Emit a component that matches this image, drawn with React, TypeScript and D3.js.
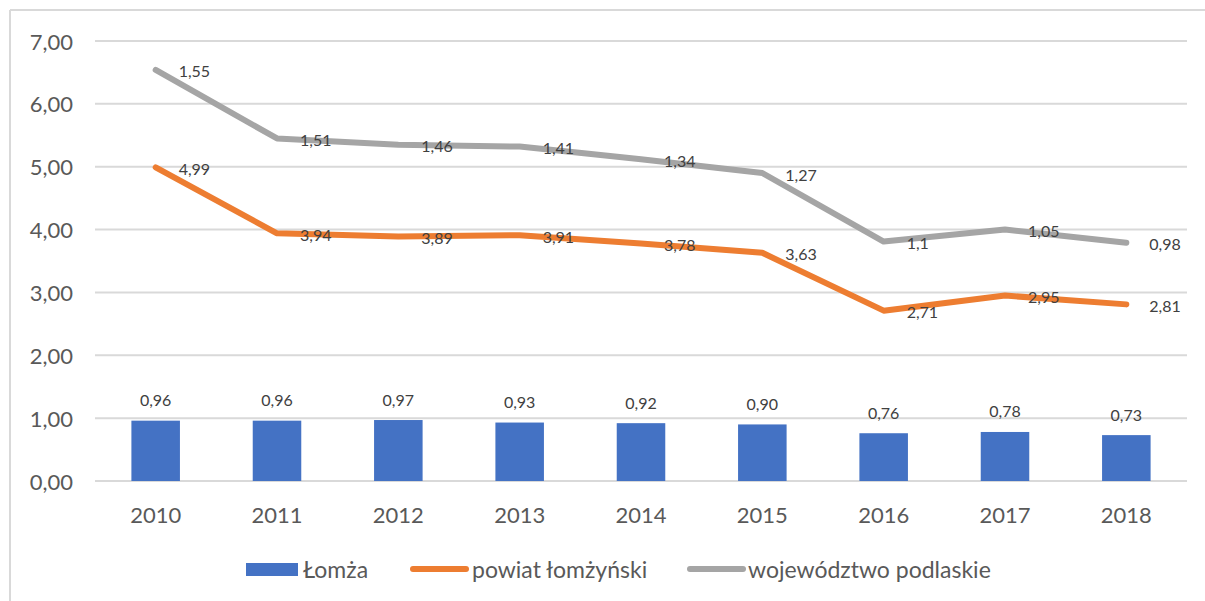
import React from "react";
import * as d3 from "d3";

const years = ["2010", "2011", "2012", "2013", "2014", "2015", "2016", "2017", "2018"];
const lomza = [0.96, 0.96, 0.97, 0.93, 0.92, 0.9, 0.76, 0.78, 0.73];
const powiat = [4.99, 3.94, 3.89, 3.91, 3.78, 3.63, 2.71, 2.95, 2.81];
const wojewodztwo = [1.55, 1.51, 1.46, 1.41, 1.34, 1.27, 1.1, 1.05, 0.98];
const yTicks = [0, 1, 2, 3, 4, 5, 6, 7];
const seriesNames = ["Łomża", "powiat łomżyński", "województwo podlaskie"];

const W = 1205;
const H = 601;
const FONT = "Lato, 'Open Sans', sans-serif";
const BLUE = "#4472c4";
const ORANGE = "#ed7d31";
const GRAY = "#a5a5a5";
const GRID = "#d9d9d9";
const TEXT = "#595959";
const LABEL = "#404040";

const comma = (s: string) => s.replace(".", ",");

export default function App() {
  const x = d3.scaleBand<string>().domain(years).range([95, 1187]).paddingInner(0).paddingOuter(0);
  const y = d3.scaleLinear().domain([0, 7]).range([481, 41]);
  const cx = (yr: string) => (x(yr) as number) + x.bandwidth() / 2;
  const barW = x.bandwidth() * 0.4;

  const stacked = powiat.map((v, i) => v + wojewodztwo[i]);
  const line = d3
    .line<number>()
    .x((_, i) => cx(years[i]))
    .y((d) => y(d));

  return (
    <svg
      width={W}
      height={H}
      style={{ position: "absolute", left: 0, top: 0, background: "#fff" }}
      fontFamily={FONT}
    >
      <rect x={0} y={0} width={W} height={H} fill="#fff" />
      <line x1={10} x2={W} y1={10} y2={10} stroke={GRID} strokeWidth={2} />
      <line x1={10} x2={10} y1={10} y2={H} stroke={GRID} strokeWidth={2} />

      {yTicks.map((t) => (
        <g key={t}>
          <line x1={95} x2={1187} y1={y(t)} y2={y(t)} stroke={GRID} strokeWidth={2} />
          <text
            x={73}
            y={y(t)}
            textAnchor="end"
            dominantBaseline="central"
            fontSize={22}
            fill={TEXT}
          >
            {comma(t.toFixed(2))}
          </text>
        </g>
      ))}

      {years.map((yr) => (
        <text
          key={yr}
          x={cx(yr)}
          y={514}
          textAnchor="middle"
          dominantBaseline="central"
          fontSize={22}
          fill={TEXT}
        >
          {yr}
        </text>
      ))}

      {lomza.map((v, i) => (
        <g key={"b" + i}>
          <rect x={cx(years[i]) - barW / 2} y={y(v)} width={barW} height={y(0) - y(v)} fill={BLUE} />
          <text
            x={cx(years[i])}
            y={y(v) - 21}
            textAnchor="middle"
            dominantBaseline="central"
            fontSize={16}
            fill={LABEL}
          >
            {comma(v.toFixed(2))}
          </text>
        </g>
      ))}

      <path d={line(stacked) || ""} fill="none" stroke={GRAY} strokeWidth={6} strokeLinejoin="round" strokeLinecap="round" />
      <path d={line(powiat) || ""} fill="none" stroke={ORANGE} strokeWidth={6} strokeLinejoin="round" strokeLinecap="round" />

      {powiat.map((v, i) => (
        <text
          key={"o" + i}
          x={cx(years[i]) + 23}
          y={y(v) + 1}
          dominantBaseline="central"
          fontSize={16}
          fill={LABEL}
        >
          {comma(String(v))}
        </text>
      ))}
      {wojewodztwo.map((v, i) => (
        <text
          key={"g" + i}
          x={cx(years[i]) + 23}
          y={y(stacked[i]) + 1}
          dominantBaseline="central"
          fontSize={16}
          fill={LABEL}
        >
          {comma(String(v))}
        </text>
      ))}

      <g>
        <rect x={246} y={563} width={52} height={13} fill={BLUE} />
        <text x={303} y={569} dominantBaseline="central" fontSize={23} fill={TEXT}>
          {seriesNames[0]}
        </text>
        <line x1={413} x2={466} y1={569} y2={569} stroke={ORANGE} strokeWidth={6} strokeLinecap="round" />
        <text x={472} y={569} dominantBaseline="central" fontSize={23} fill={TEXT}>
          {seriesNames[1]}
        </text>
        <line x1={690} x2={743} y1={569} y2={569} stroke={GRAY} strokeWidth={6} strokeLinecap="round" />
        <text x={748} y={569} dominantBaseline="central" fontSize={23} fill={TEXT}>
          {seriesNames[2]}
        </text>
      </g>
    </svg>
  );
}
